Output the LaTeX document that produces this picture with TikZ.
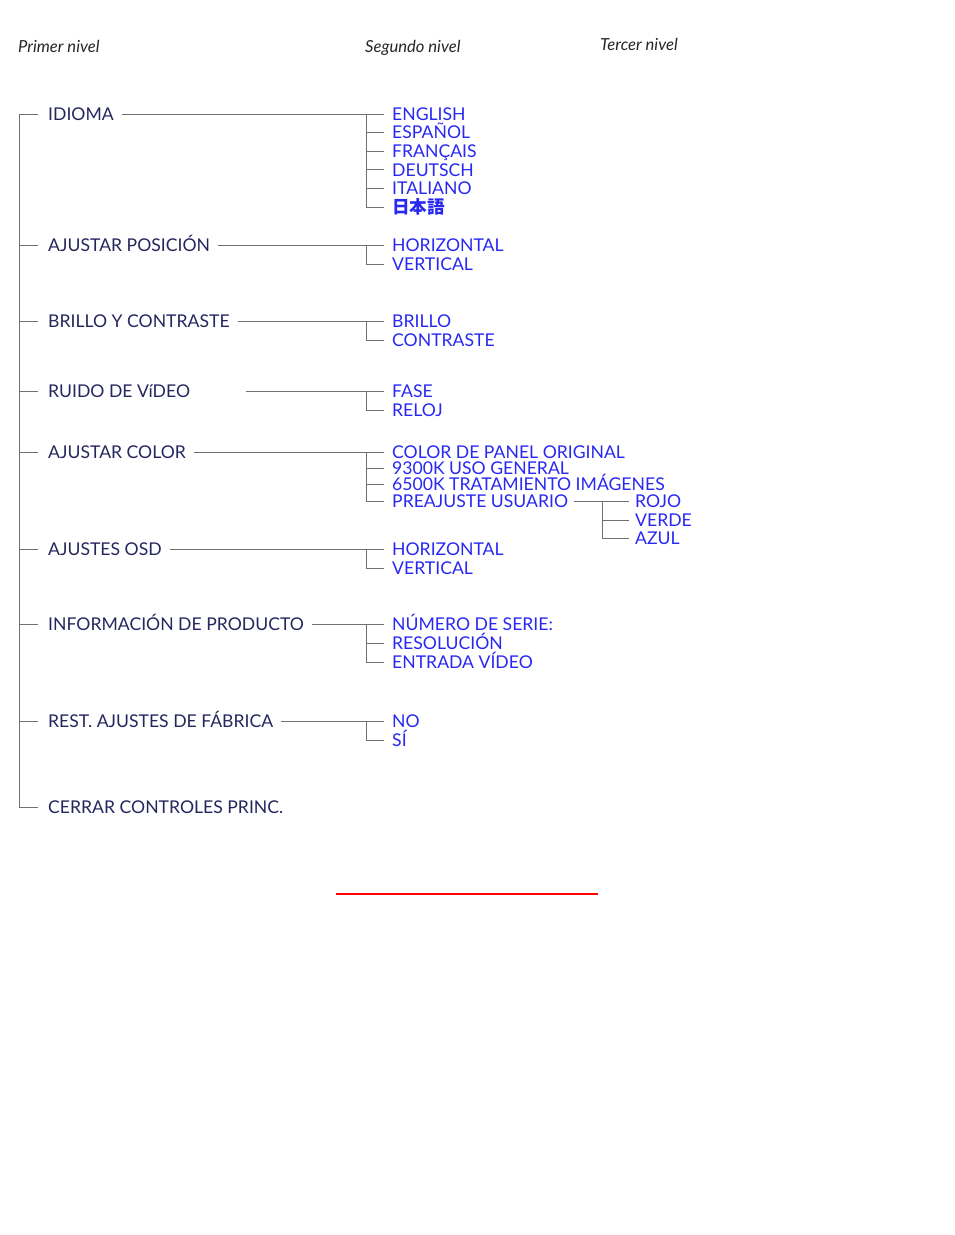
\documentclass[tikz,border=0pt]{standalone}
\usepackage{fontspec}
\setmainfont{Lato}
\newfontfamily\jpfont{Noto Sans CJK JP}
\definecolor{navy}{HTML}{26265E}
\definecolor{menublue}{HTML}{2828F2}
\definecolor{lngray}{HTML}{707070}
\begin{document}
\begin{tikzpicture}[x=1pt,y=-1pt,
  ln/.style={draw=lngray,line width=1pt},
  base/.style={anchor=west,inner sep=0pt,text height=12.5pt,text depth=0pt,font=\fontsize{17.6}{19}\selectfont},
  lvla/.style={base,text=navy},
  lvlb/.style={base,text=menublue},
  hdr/.style={anchor=base west,inner sep=0pt,text=black!85,font=\fontsize{16.6}{18}\selectfont\itshape}]
\useasboundingbox (0,0) rectangle (954,1235);
% headers
\node[hdr] (h1) at (18,52) {Primer nivel};
\node[hdr] (h2) at (365,52) {Segundo nivel};
\node[hdr] (h3) at (600,50) {Tercer nivel};
% first level
\node[lvla] (a1) at (48,114) {IDIOMA};
\node[lvla] (a2) at (48,245) {AJUSTAR POSICIÓN};
\node[lvla] (a3) at (48,321) {BRILLO Y CONTRASTE};
\node[lvla] (a4) at (48,391) {RUIDO DE VíDEO};
\node[lvla] (a5) at (48,452) {AJUSTAR COLOR};
\node[lvla] (a6) at (48,549) {AJUSTES OSD};
\node[lvla] (a7) at (48,624) {INFORMACIÓN DE PRODUCTO};
\node[lvla] (a8) at (48,721) {REST. AJUSTES DE FÁBRICA};
\node[lvla] (a9) at (48,807) {CERRAR CONTROLES PRINC.};
\coordinate (top) at (19,114);
% main trunk
\draw[ln] (top) |- ([xshift=-10pt]a9.west);
\foreach \n in {a1,a2,a3,a4,a5,a6,a7,a8}{
  \draw[ln] (top |- \n.west) -- ([xshift=-10pt]\n.west);
}
% second level
\node[lvlb] (b11) at (392,114) {ENGLISH};
\node[lvlb] (b12) at (392,132.6) {ESPAÑOL};
\node[lvlb] (b13) at (392,151.2) {FRANÇAIS};
\node[lvlb] (b14) at (392,169.8) {DEUTSCH};
\node[lvlb] (b15) at (392,188.4) {ITALIANO};
\node[lvlb] (b16) at (392,207) {\jpfont\bfseries 日本語};
\node[lvlb] (b21) at (392,245) {HORIZONTAL};
\node[lvlb] (b22) at (392,264) {VERTICAL};
\node[lvlb] (b31) at (392,321) {BRILLO};
\node[lvlb] (b32) at (392,340) {CONTRASTE};
\node[lvlb] (b41) at (392,391) {FASE};
\node[lvlb] (b42) at (392,410) {RELOJ};
\node[lvlb] (b51) at (392,452) {COLOR DE PANEL ORIGINAL};
\node[lvlb] (b52) at (392,468.3) {9300K USO GENERAL};
\node[lvlb] (b53) at (392,484.6) {6500K TRATAMIENTO IMÁGENES};
\node[lvlb] (b54) at (392,501) {PREAJUSTE USUARIO};
\node[lvlb] (b61) at (392,549) {HORIZONTAL};
\node[lvlb] (b62) at (392,568) {VERTICAL};
\node[lvlb] (b71) at (392,624) {NÚMERO DE SERIE:};
\node[lvlb] (b72) at (392,643) {RESOLUCIÓN};
\node[lvlb] (b73) at (392,662) {ENTRADA VÍDEO};
\node[lvlb] (b81) at (392,721) {NO};
\node[lvlb] (b82) at (392,740) {SÍ};
% third level
\node[lvlb] (c1) at (635,501) {ROJO};
\node[lvlb] (c2) at (635,520) {VERDE};
\node[lvlb] (c3) at (635,538) {AZUL};
% connectors level 1 -> level 2
\coordinate (r4) at (246,391);
\draw[ln] ([xshift=8pt]a1.east) -- ([xshift=-8pt]b11.west);
\draw[ln] ([xshift=8pt]a2.east) -- ([xshift=-8pt]b21.west);
\draw[ln] ([xshift=8pt]a3.east) -- ([xshift=-8pt]b31.west);
\draw[ln] (r4) -- ([xshift=-8pt]b41.west);
\draw[ln] ([xshift=8pt]a5.east) -- ([xshift=-8pt]b51.west);
\draw[ln] ([xshift=8pt]a6.east) -- ([xshift=-8pt]b61.west);
\draw[ln] ([xshift=8pt]a7.east) -- ([xshift=-8pt]b71.west);
\draw[ln] ([xshift=8pt]a8.east) -- ([xshift=-8pt]b81.west);
% brackets
\draw[ln] ([xshift=-26pt]b11.west) |- ([xshift=-8pt]b16.west);
\foreach \n in {b12,b13,b14,b15}{\draw[ln] ([xshift=-26pt]\n.west) -- ([xshift=-8pt]\n.west);}
\draw[ln] ([xshift=-26pt]b21.west) |- ([xshift=-8pt]b22.west);
\draw[ln] ([xshift=-26pt]b31.west) |- ([xshift=-8pt]b32.west);
\draw[ln] ([xshift=-26pt]b41.west) |- ([xshift=-8pt]b42.west);
\draw[ln] ([xshift=-26pt]b51.west) |- ([xshift=-8pt]b54.west);
\foreach \n in {b52,b53}{\draw[ln] ([xshift=-26pt]\n.west) -- ([xshift=-8pt]\n.west);}
\draw[ln] ([xshift=-26pt]b61.west) |- ([xshift=-8pt]b62.west);
\draw[ln] ([xshift=-26pt]b71.west) |- ([xshift=-8pt]b73.west);
\draw[ln] ([xshift=-26pt]b72.west) -- ([xshift=-8pt]b72.west);
\draw[ln] ([xshift=-26pt]b81.west) |- ([xshift=-8pt]b82.west);
% third level connectors
\draw[ln] ([xshift=6pt]b54.east) -- ([xshift=-6pt]c1.west);
\draw[ln] ([xshift=-33pt]c1.west) |- ([xshift=-6pt]c3.west);
\draw[ln] ([xshift=-33pt]c2.west) -- ([xshift=-6pt]c2.west);
% red rule
\coordinate (rl) at (336,894);
\coordinate (rr) at (598,894);
\draw[red,line width=1.3pt] (rl) -- (rr);
\end{tikzpicture}
\end{document}
